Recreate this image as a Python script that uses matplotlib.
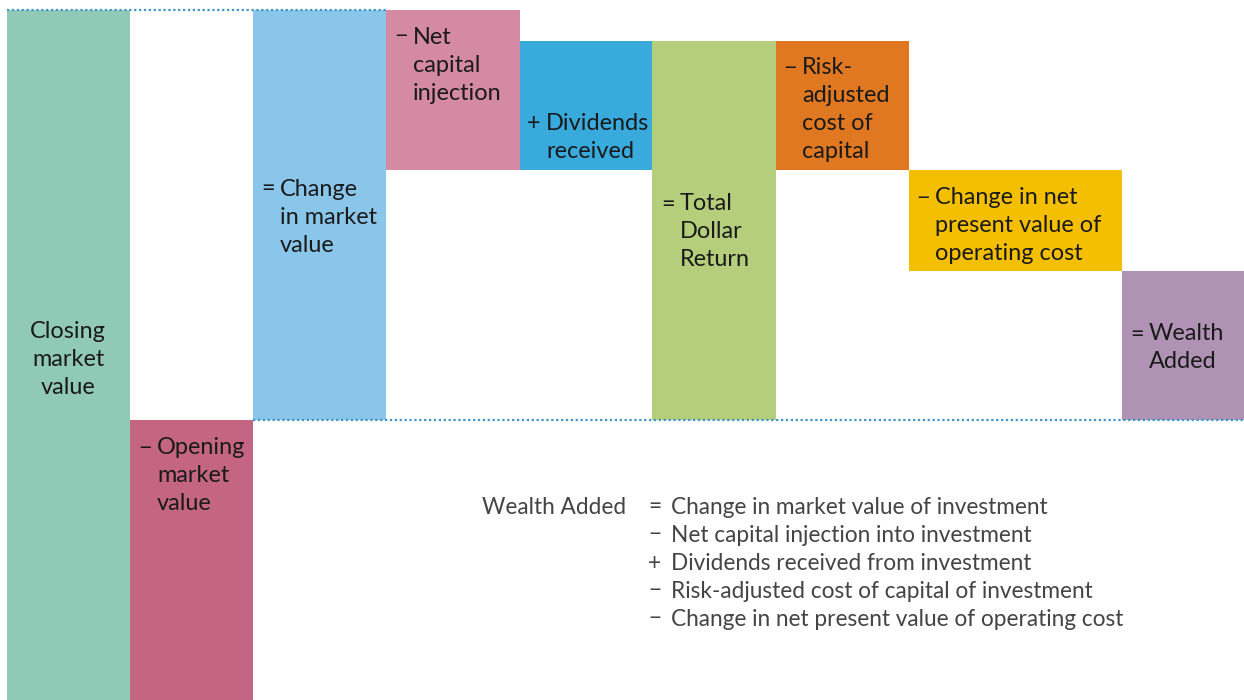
import matplotlib
matplotlib.use("Agg")
import matplotlib.pyplot as plt

# ---- data (in chart units) ----
closing_market_value = 690
opening_market_value = 280
net_capital_injection = 160
dividends_received = 129
risk_adjusted_cost = 129
change_npv_operating_cost = 101

signs = ["", "−", "=", "−", "+", "=", "−", "−", "="]
labels = [
    ["Closing", "market", "value"],
    ["Opening", "market", "value"],
    ["Change", "in market", "value"],
    ["Net", "capital", "injection"],
    ["Dividends", "received"],
    ["Total", "Dollar", "Return"],
    ["Risk-", "adjusted", "cost of", "capital"],
    ["Change in net", "present value of", "operating cost"],
    ["Wealth", "Added"],
]
colors = ["#90CAB6", "#C46584", "#8AC6EA", "#D38AA2", "#38AADC",
          "#B5CE7B", "#E07821", "#F3BF00", "#AF92B4"]

formula_left = "Wealth Added"
formula_signs = ["=", "−", "+", "−", "−"]
formula_lines = [
    "Change in market value of investment",
    "Net capital injection into investment",
    "Dividends received from investment",
    "Risk-adjusted cost of capital of investment",
    "Change in net present value of operating cost",
]

# ---- waterfall levels ----
lvl_after_nci = closing_market_value - net_capital_injection
lvl_after_div = lvl_after_nci + dividends_received
lvl_after_racc = lvl_after_div - risk_adjusted_cost
lvl_after_npv = lvl_after_racc - change_npv_operating_cost

spans = [
    (0, closing_market_value),
    (0, opening_market_value),
    (opening_market_value, closing_market_value),
    (lvl_after_nci, closing_market_value),
    (lvl_after_nci, lvl_after_div),
    (opening_market_value, lvl_after_div),
    (lvl_after_racc, lvl_after_div),
    (lvl_after_npv, lvl_after_racc),
    (opening_market_value, lvl_after_npv),
]

# ---- layout ----
W, H = 1244, 700
edges = [7, 130, 253, 386, 520, 652, 776, 909, 1122, 1244]
label_pos = [
    (331, None, 68, "center"),
    (448, 138, 157, "left"),
    (189, 261, 280, "left"),
    (37, 394, 413, "left"),
    (123, 527, 546, "left"),
    (204, 661, 680, "left"),
    (68, 783, 802, "left"),
    (198, 916, 935, "left"),
    (334, 1130, 1149, "left"),
]
line_step = 28
FS = 16.9
FS2 = 16.3
FONT = ["Lato", "DejaVu Sans"]

fig = plt.figure(figsize=(W / 100, H / 100), dpi=100)
ax = fig.add_axes([0, 0, 1, 1])
ax.set_xlim(0, W)
ax.set_ylim(0, H)
ax.axis("off")

def py(p):
    return H - p

for i, (b, t) in enumerate(spans):
    ax.bar(edges[i], t - b, bottom=b, width=edges[i + 1] - edges[i],
           align="edge", color=colors[i], linewidth=0, zorder=1)

# dotted guide lines
ax.plot([edges[0], edges[3]], [closing_market_value, closing_market_value],
        linestyle=(0, (1, 1.2)), color="#3E95C6", linewidth=1.6, zorder=3)
ax.plot([edges[2], edges[-1]], [opening_market_value, opening_market_value],
        linestyle=(0, (1, 1.2)), color="#3E95C6", linewidth=1.6, zorder=3)

for i, lines in enumerate(labels):
    y0, sx, tx, ha = label_pos[i]
    if signs[i] and sx is not None:
        ax.text(sx, py(y0), signs[i], fontsize=FS, family=FONT, color="#1a1a1a",
                ha="left", va="center", zorder=4)
    for k, line in enumerate(lines):
        ax.text(tx, py(y0 + k * line_step), line, fontsize=FS, family=FONT,
                color="#1a1a1a", ha=ha, va="center", zorder=4)

# formula block
fy0 = 507
ax.text(482, py(fy0), formula_left, fontsize=FS2, family=FONT,
        color="#444444", ha="left", va="center")
for k, (s, line) in enumerate(zip(formula_signs, formula_lines)):
    ax.text(648, py(fy0 + k * line_step), s, fontsize=FS2, family=FONT,
            color="#444444", ha="left", va="center")
    ax.text(671, py(fy0 + k * line_step), line, fontsize=FS2, family=FONT,
            color="#444444", ha="left", va="center")

fig.savefig("out.png", dpi=100)
